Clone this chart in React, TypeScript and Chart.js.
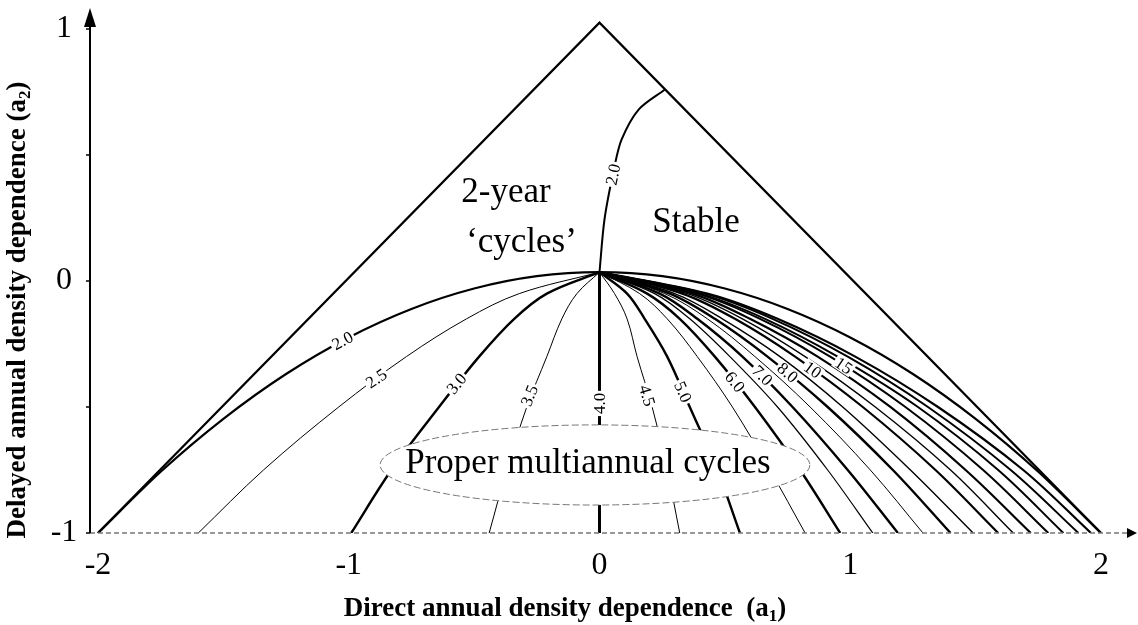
import React, { useEffect, useRef } from 'react';
import { Chart, registerables } from 'chart.js';

Chart.register(...registerables);

// ---------- data ----------
// axis ticks
const X_TICKS = [-2, -1, 0, 1, 2];
const Y_TICKS = [-1, 0, 1];
const Y_MINOR_TICKS = [-1, -0.5, 0, 0.5, 1];

// stability triangle (a1, a2)
const TRIANGLE_A1 = [-2, 0, 2];
const TRIANGLE_A2 = [-1, 1.025, -1];

// boundary between real and complex roots (the 2.0 curve, both halves)
const PARABOLA_A1 = [-2, -1.75, -1.5, -1.25, -1, -0.75, -0.5, -0.25, 0, 0.25, 0.5, 0.75, 1, 1.25, 1.5, 1.75, 2];
const PARABOLA_A2 = [-1, -0.757, -0.547, -0.369, -0.224, -0.111, -0.03, 0.019, 0.035, 0.019, -0.03, -0.111, -0.224, -0.369, -0.547, -0.757, -1];

// upper "2.0" curve separating 2-year cycles from stable
const UPPER_A1 = [0, 0.02, 0.06, 0.088, 0.156, 0.26];
const UPPER_A2 = [0.035, 0.245, 0.455, 0.561, 0.68, 0.759];

// period contours: a1 read at these a2 levels
const DEPTH_A2 = [0.035, -0.05, -0.15, -0.3, -0.5, -0.75, -1.0];
const P2_5 = [0, -0.32, -0.53, -0.77, -1.04, -1.34, -1.6];
const P3_0 = [0, -0.21, -0.34, -0.48, -0.64, -0.83, -0.99];
const P3_5 = [0, -0.09, -0.15, -0.21, -0.29, -0.37, -0.44];
const P4_0 = [0, 0, 0, 0, 0, 0, 0];
const P4_5 = [0, 0.06, 0.11, 0.15, 0.21, 0.27, 0.32];
const P5_0 = [0, 0.11, 0.18, 0.27, 0.36, 0.47, 0.56];
const P5_5 = [0, 0.16, 0.27, 0.39, 0.53, 0.68, 0.82];
const P6_0 = [0, 0.19, 0.32, 0.46, 0.62, 0.8, 0.96];
const P6_5 = [0, 0.22, 0.36, 0.52, 0.71, 0.91, 1.09];
const P7_0 = [0, 0.24, 0.39, 0.57, 0.77, 0.99, 1.19];
const P7_5 = [0, 0.26, 0.43, 0.62, 0.84, 1.08, 1.29];
const P8_0 = [0, 0.28, 0.46, 0.67, 0.91, 1.17, 1.4];
const P9_0 = [0, 0.3, 0.49, 0.72, 0.97, 1.24, 1.49];
const P10 = [0, 0.33, 0.54, 0.78, 1.05, 1.34, 1.59];
const P11 = [0, 0.35, 0.57, 0.82, 1.1, 1.4, 1.65];
const P12 = [0, 0.37, 0.6, 0.87, 1.16, 1.46, 1.72];
const P15 = [0, 0.39, 0.64, 0.92, 1.22, 1.53, 1.79];
const P20 = [0, 0.4, 0.66, 0.95, 1.27, 1.59, 1.85];
const P25 = [0, 0.42, 0.69, 0.99, 1.31, 1.64, 1.91];
const P30 = [0, 0.43, 0.71, 1.02, 1.35, 1.69, 1.96];

const CONTOURS = [P2_5, P3_0, P3_5, P4_0, P4_5, P5_0, P5_5, P6_0, P6_5, P7_0, P7_5, P8_0, P9_0, P10, P11, P12, P15, P20, P25, P30];
const CONTOUR_WIDTHS = [1, 2.4, 1, 3, 1, 2.4, 1, 2.4, 1.2, 2.4, 1, 2.4, 1.4, 2.2, 1.4, 2.2, 2, 2, 2, 2.2];

// contour labels
const LABEL_TEXT = ['2.0', '2.5', '3.0', '3.5', '4.0', '4.5', '5.0', '6.0', '7.0', '8.0', '10', '15', '2.0'];
const LABEL_A1 = [-1.025, -0.89, -0.57, -0.28, 0, 0.19, 0.333, 0.54, 0.65, 0.75, 0.85, 0.974, 0.054];
const LABEL_A2 = [-0.237, -0.387, -0.407, -0.455, -0.486, -0.455, -0.44, -0.4, -0.375, -0.364, -0.352, -0.336, 0.423];
const LABEL_ANGLE = [-28, -34, -50, -68, -90, 73, 66, 51, 45, 40, 36, 34, -78];

// region labels
const REGION_TEXT = ['2-year', '\u2018cycles\u2019', 'Stable', 'Proper multiannual cycles'];
const REGION_A1 = [-0.373, -0.311, 0.385, -0.046];
const REGION_A2 = [0.313, 0.115, 0.194, -0.762];

// ellipse around the main label: centre and radii in axis units
const ELLIPSE_CENTER = [-0.018, -0.73];
const ELLIPSE_RADII = [0.857, 0.159];

const SERIF = "'Liberation Serif', 'Times New Roman', serif";

export default function App() {
  const ref = useRef<HTMLCanvasElement>(null);

  useEffect(() => {
    const canvas = ref.current;
    if (!canvas) return;

    const line = (xs: number[], ys: number[], width: number, tension: number) => ({
      data: xs.map((v, i) => ({ x: v, y: ys[i] })),
      showLine: true,
      borderColor: '#000',
      borderWidth: width,
      pointRadius: 0,
      tension,
      fill: false,
    });

    const datasets: any[] = [];
    CONTOURS.forEach((c, i) => datasets.push(line(c, DEPTH_A2, CONTOUR_WIDTHS[i], 0.35)));
    datasets.push(line(PARABOLA_A1, PARABOLA_A2, 2.2, 0.3));
    datasets.push(line(UPPER_A1, UPPER_A2, 2, 0.3));
    datasets.push(line(TRIANGLE_A1, TRIANGLE_A2, 2.2, 0));

    const decor = {
      id: 'decor',
      afterDatasetsDraw(chart: any) {
        const { ctx, scales } = chart;
        const X = (v: number) => scales.x.getPixelForValue(v);
        const Y = (v: number) => scales.y.getPixelForValue(v);
        const area = chart.chartArea;
        ctx.save();

        // ellipse
        const ex = X(ELLIPSE_CENTER[0]);
        const ey = Y(ELLIPSE_CENTER[1]);
        const erx = X(ELLIPSE_CENTER[0] + ELLIPSE_RADII[0]) - ex;
        const ery = ey - Y(ELLIPSE_CENTER[1] + ELLIPSE_RADII[1]);
        ctx.beginPath();
        ctx.ellipse(ex, ey, erx, ery, 0, 0, Math.PI * 2);
        ctx.fillStyle = '#fff';
        ctx.fill();
        ctx.setLineDash([7, 3]);
        ctx.strokeStyle = '#777';
        ctx.lineWidth = 1;
        ctx.stroke();
        ctx.setLineDash([]);

        // contour labels
        ctx.font = `17px ${SERIF}`;
        ctx.textAlign = 'center';
        ctx.textBaseline = 'middle';
        LABEL_TEXT.forEach((t, i) => {
          ctx.save();
          ctx.translate(X(LABEL_A1[i]), Y(LABEL_A2[i]));
          ctx.rotate((LABEL_ANGLE[i] * Math.PI) / 180);
          const w = ctx.measureText(t).width;
          ctx.fillStyle = '#fff';
          ctx.fillRect(-w / 2 - 2, -7, w + 4, 14);
          ctx.fillStyle = '#000';
          ctx.fillText(t, 0, 1);
          ctx.restore();
        });

        // region labels
        ctx.font = `35px ${SERIF}`;
        ctx.textBaseline = 'alphabetic';
        ctx.fillStyle = '#000';
        REGION_TEXT.forEach((t, i) => {
          ctx.fillText(t, X(REGION_A1[i]), Y(REGION_A2[i]));
        });

        // axes
        const x0 = area.left;
        const yb = area.bottom;
        // x axis (faint broken line) with arrow
        ctx.strokeStyle = '#777';
        ctx.lineWidth = 1.6;
        ctx.setLineDash([5, 3]);
        ctx.beginPath();
        ctx.moveTo(x0, yb);
        ctx.lineTo(area.right - 8, yb);
        ctx.stroke();
        ctx.setLineDash([]);
        ctx.fillStyle = '#000';
        ctx.beginPath();
        ctx.moveTo(area.right, yb);
        ctx.lineTo(area.right - 10, yb - 5);
        ctx.lineTo(area.right - 10, yb + 5);
        ctx.closePath();
        ctx.fill();
        // y axis with arrow
        ctx.strokeStyle = '#000';
        ctx.lineWidth = 2;
        ctx.beginPath();
        ctx.moveTo(x0, yb);
        ctx.lineTo(x0, area.top + 12);
        ctx.stroke();
        ctx.beginPath();
        ctx.moveTo(x0, area.top);
        ctx.lineTo(x0 - 6, area.top + 19);
        ctx.lineTo(x0 + 6, area.top + 19);
        ctx.closePath();
        ctx.fill();
        // y minor ticks
        ctx.lineWidth = 1.5;
        Y_MINOR_TICKS.forEach((v) => {
          ctx.beginPath();
          ctx.moveTo(x0 - 4, Y(v));
          ctx.lineTo(x0, Y(v));
          ctx.stroke();
        });

        // tick labels
        ctx.font = `32px ${SERIF}`;
        ctx.textAlign = 'center';
        ctx.textBaseline = 'middle';
        ctx.fillStyle = '#000';
        Y_TICKS.forEach((v) => {
          ctx.fillText(String(v), 64, Y(v));
        });
        X_TICKS.forEach((v) => {
          ctx.fillText(String(v), X(v), yb + 33);
        });

        // axis titles with subscripts
        const drawTitle = (main: string, sub: string, cx: number, base: number) => {
          ctx.font = `bold 27px ${SERIF}`;
          const w1 = ctx.measureText(main).width;
          ctx.font = `bold 17px ${SERIF}`;
          const w2 = ctx.measureText(sub).width;
          ctx.font = `bold 27px ${SERIF}`;
          const w3 = ctx.measureText(')').width;
          const total = w1 + w2 + w3;
          let xx = cx - total / 2;
          ctx.textAlign = 'left';
          ctx.textBaseline = 'alphabetic';
          ctx.fillText(main, xx, base);
          xx += w1;
          ctx.font = `bold 17px ${SERIF}`;
          ctx.fillText(sub, xx, base + 5);
          xx += w2;
          ctx.font = `bold 27px ${SERIF}`;
          ctx.fillText(')', xx, base);
        };
        drawTitle('Direct annual density dependence  (a', '1', 565, 616);
        ctx.save();
        ctx.translate(25, 310);
        ctx.rotate(-Math.PI / 2);
        drawTitle('Delayed annual density dependence (a', '2', 0, 0);
        ctx.restore();

        ctx.restore();
      },
    };

    const chart = new Chart(canvas, {
      type: 'scatter',
      data: { datasets },
      options: {
        responsive: false,
        animation: false,
        devicePixelRatio: 1,
        layout: { padding: { left: 90, top: 8, right: 1, bottom: 92 } },
        scales: {
          x: { type: 'linear', min: -2.0319, max: 2.1436, display: false },
          y: { type: 'linear', min: -1, max: 1.0833, display: false },
        },
        plugins: { legend: { display: false }, tooltip: { enabled: false } },
      },
      plugins: [decor],
    } as any);

    return () => chart.destroy();
  }, []);

  return (
    <div style={{ position: 'fixed', left: 0, top: 0, width: 1138, height: 625, background: '#fff' }}>
      <canvas ref={ref} width={1138} height={625} style={{ display: 'block' }} />
    </div>
  );
}
